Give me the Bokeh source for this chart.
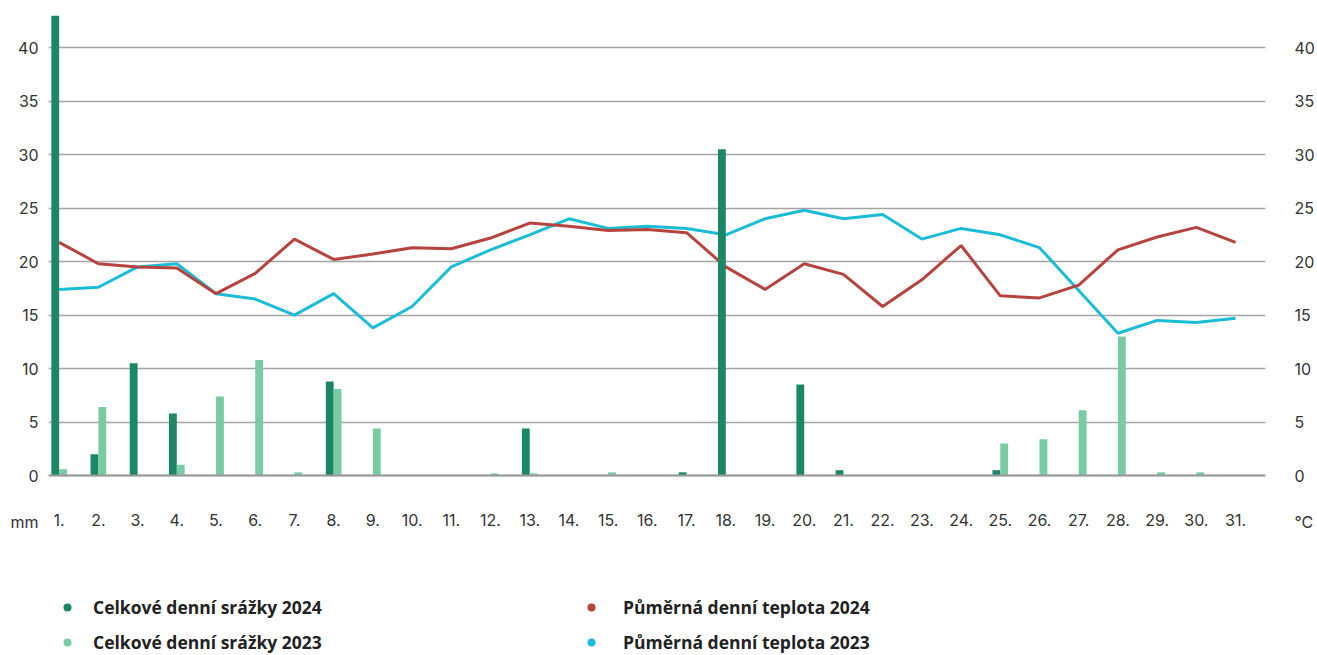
from bokeh.plotting import figure
from bokeh.models import (ColumnDataSource, Range1d, FixedTicker, LinearAxis,
                          Legend, LegendItem)
from bokeh.transform import dodge
from bokeh.embed import file_html
from bokeh.resources import INLINE

days = list(range(1, 32))
day_labels = {d: f"{d}." for d in days}
rain_2024 = [43.0, 2.0, 10.5, 5.8, 0, 0, 0, 8.8, 0, 0, 0, 0, 4.4, 0, 0, 0, 0.3,
             30.5, 0, 8.5, 0.5, 0, 0, 0, 0.5, 0, 0, 0, 0, 0, 0]
rain_2023 = [0.6, 6.4, 0, 1.0, 7.4, 10.8, 0.3, 8.1, 4.4, 0, 0, 0.2, 0.2, 0, 0.3, 0,
             0, 0, 0, 0, 0, 0, 0, 0, 3.0, 3.4, 6.1, 13.0, 0.3, 0.3, 0]
temp_2024 = [21.8, 19.8, 19.5, 19.4, 17.0, 18.9, 22.1, 20.2, 20.7, 21.3, 21.2, 22.2,
             23.6, 23.3, 22.9, 23.0, 22.7, 19.5, 17.4, 19.8, 18.8, 15.8, 18.3, 21.5,
             16.8, 16.6, 17.8, 21.1, 22.3, 23.2, 21.8]
temp_2023 = [17.4, 17.6, 19.5, 19.8, 17.0, 16.5, 15.0, 17.0, 13.8, 15.8, 19.5, 21.1,
             22.5, 24.0, 23.1, 23.3, 23.1, 22.5, 24.0, 24.8, 24.0, 24.4, 22.1, 23.1,
             22.5, 21.3, 17.3, 13.3, 14.5, 14.3, 14.7]
y_ticks = [0, 5, 10, 15, 20, 25, 30, 35, 40]
unit_left = "mm"
unit_right = "°C"
legend_rain = ["Celkové denní srážky 2024", "Celkové denní srážky 2023"]
legend_temp = ["Půměrná denní teplota 2024", "Půměrná denní teplota 2023"]

C_R24 = "#1b8767"
C_R23 = "#79cba2"
C_T24 = "#b5443f"
C_T23 = "#1bbcd6"
FONT = "Inter"
LFONT = "Open Sans"
TXT = "#333333"
UNIT_Y = -4.3  # vertical position of the unit captions (row of the day labels)
NAN = float("nan")

src = ColumnDataSource(dict(day=days, r24=rain_2024, r23=rain_2023,
                            t24=temp_2024, t23=temp_2023))

p = figure(width=1317, height=655, output_backend="svg", toolbar_location=None,
           x_range=Range1d(0.728, 31.763), y_range=Range1d(-16.82, 43),
           min_border_left=48, min_border_right=49, min_border_top=15,
           min_border_bottom=0, background_fill_color="white",
           border_fill_color="white")
p.outline_line_color = None
p.xgrid.grid_line_color = None
p.ygrid.ticker = FixedTicker(ticks=y_ticks)
p.ygrid.grid_line_color = "#a4a4a4"
p.ygrid.grid_line_width = 1.4

# x axis, drawn at the zero line
xa = p.xaxis[0]
xa.fixed_location = 0
xa.ticker = FixedTicker(ticks=days)
xa.major_label_overrides = day_labels
xa.major_tick_line_color = None
xa.minor_tick_line_color = None
xa.axis_line_color = "#999999"
xa.axis_line_width = 2
xa.major_label_standoff = 32
xa.major_label_text_font = FONT
xa.major_label_text_font_size = "16px"
xa.major_label_text_color = TXT


def style_y(ax, standoff, unit):
    ax.ticker = FixedTicker(ticks=[UNIT_Y] + y_ticks)
    ax.major_label_overrides = {UNIT_Y: unit}
    ax.axis_line_color = None
    ax.major_tick_line_color = None
    ax.minor_tick_line_color = None
    ax.major_label_standoff = standoff
    ax.major_label_text_font = FONT
    ax.major_label_text_font_size = "16px"
    ax.major_label_text_color = TXT


style_y(p.yaxis[0], 4, unit_left)
ra = LinearAxis()
style_y(ra, 23, unit_right)
p.add_layout(ra, "right")

# temperature lines (behind bars)
p.line("day", "t23", source=src, line_color=C_T23, line_width=3)
p.line("day", "t24", source=src, line_color=C_T24, line_width=3)

# rain bars
p.vbar(x=dodge("day", -0.1, range=p.x_range), top="r24", width=0.2, bottom=0,
       source=src, fill_color=C_R24, line_color=None)
p.vbar(x=dodge("day", 0.1, range=p.x_range), top="r23", width=0.2, bottom=0,
       source=src, fill_color=C_R23, line_color=None)


# legend swatches (circle markers with no visible point)
def swatch(color):
    return p.scatter([NAN], [NAN], marker="circle", size=12, fill_color=color,
                     line_color=None)


d24, d23, dt24, dt23 = swatch(C_R24), swatch(C_R23), swatch(C_T24), swatch(C_T23)


def make_legend(items, loc, standoff):
    return Legend(items=items, location=loc, orientation="vertical",
                  glyph_width=20, glyph_height=20, label_height=20,
                  label_standoff=standoff, spacing=11, padding=0, margin=0,
                  border_line_color=None, background_fill_alpha=0,
                  label_text_font=LFONT, label_text_font_style="bold",
                  label_text_font_size="17.5px", label_text_color="#222222")


p.add_layout(make_legend([LegendItem(label=legend_rain[0], renderers=[d24]),
                          LegendItem(label=legend_rain[1], renderers=[d23])],
                         (9, 1), 16))
p.add_layout(make_legend([LegendItem(label=legend_temp[0], renderers=[dt24]),
                          LegendItem(label=legend_temp[1], renderers=[dt23])],
                         (533, 1), 22))

open("out.html", "w").write(file_html(p, INLINE))
